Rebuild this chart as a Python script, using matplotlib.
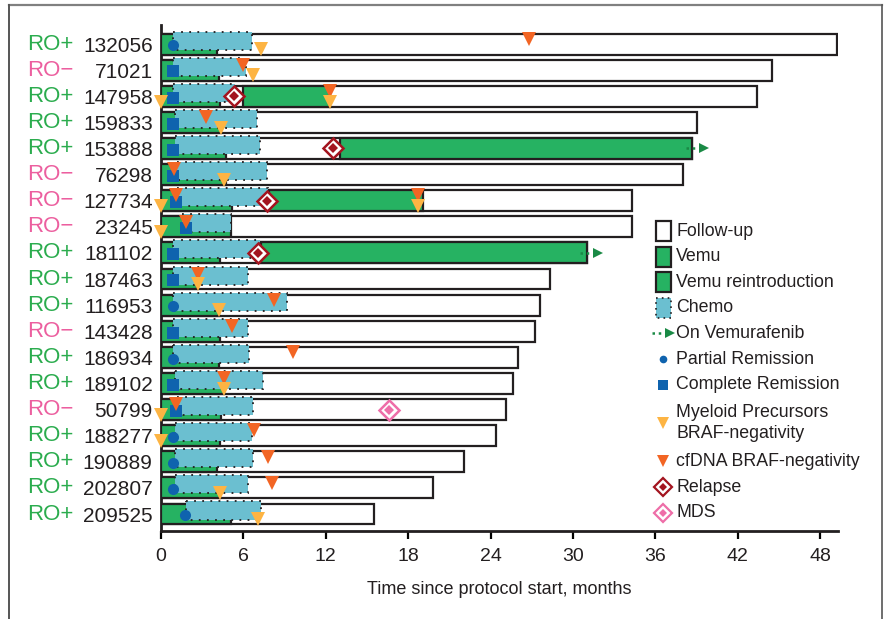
import matplotlib
matplotlib.use('Agg')
import matplotlib.pyplot as plt
from matplotlib.patches import Rectangle
from matplotlib.lines import Line2D
from matplotlib.transforms import blended_transform_factory

plt.rcParams['font.family'] = ['Liberation Sans', 'DejaVu Sans']

# one entry per patient, top to bottom
patient_ids = ['132056', '71021', '147958', '159833', '153888', '76298', '127734',
               '23245', '181102', '187463', '116953', '143428', '186934', '189102',
               '50799', '188277', '190889', '202807', '209525']
ro_status = ['+', '-', '+', '+', '+', '-', '-', '-', '+', '+', '+', '-', '+', '+',
             '-', '+', '+', '+', '+']
followup_end = [49.2, 44.5, 43.4, 39.0, 38.7, 38.0, 34.3, 34.3, 31.0, 28.3, 27.6,
                27.2, 26.0, 25.6, 25.1, 24.4, 22.1, 19.8, 15.5]
vemu_end = [4.1, 4.2, 4.3, 4.4, 4.7, 4.7, 5.2, 5.1, 4.3, 2.6, 4.2, 4.3, 4.2, 4.6,
            4.4, 4.3, 4.1, 4.3, 5.1]
chemo_start = [0.9, 0.9, 0.9, 1.0, 1.0, 1.2, 1.2, 1.5, 0.9, 0.9, 0.9, 0.9, 0.9, 1.0,
               1.2, 1.0, 1.0, 1.0, 1.8]
chemo_end = [6.6, 6.2, 5.4, 7.0, 7.2, 7.7, 7.8, 5.1, 7.2, 6.3, 9.2, 6.3, 6.4, 7.4,
             6.7, 6.6, 6.7, 6.3, 7.3]
reintro = {2: (6.0, 12.3), 4: (13.0, 38.7), 6: (7.9, 19.1), 8: (7.3, 31.0)}
still_on_vemu = [4, 8]
response = ['PR', 'CR', 'CR', 'CR', 'CR', 'CR', 'CR', 'CR', 'CR', 'CR', 'PR', 'CR',
            'PR', 'CR', 'CR', 'PR', 'PR', 'PR', 'PR']
response_time = [0.9, 0.9, 0.9, 0.9, 0.9, 0.9, 1.1, 1.8, 0.9, 0.9, 0.9, 0.9, 0.9,
                 0.9, 1.1, 0.9, 0.9, 0.9, 1.75]
myeloid_neg = [[7.3], [6.7], [0, 12.3], [4.4], [], [4.6], [0, 18.7], [0], [], [2.7],
               [4.2], [], [], [4.6], [0], [0], [], [4.3], [7.1]]
cfdna_neg = [[26.8], [6.0], [12.3], [3.3], [], [0.95], [1.1, 18.7], [1.8], [], [2.7],
             [8.2], [5.2], [9.6], [4.6], [1.1], [6.8], [7.8], [8.1], []]
relapse = {2: 5.3, 4: 12.5, 6: 7.7, 8: 7.1}
mds = {14: 16.6}

GREEN = '#26b262'
CHEMO = '#6bbfd0'
BLUE = '#0f63ae'
YELLOW = '#fdb443'
ORANGE = '#f26524'
RELAPSE = '#a3141f'
MDS_PINK = '#ee6ea8'
EDGE = '#231f20'
RO_POS = '#2bac4e'
RO_NEG = '#ec5f9f'

fig = plt.figure(figsize=(8.88, 6.19), dpi=100)
ax = fig.add_axes([161 / 888, 1 - 531 / 619, 677 / 888, 506 / 619])

h = 0.8
for i in range(len(patient_ids)):
    ax.add_patch(Rectangle((0, i - h / 2), followup_end[i], h, facecolor='white',
                           edgecolor=EDGE, lw=1.6, zorder=2))
    ax.add_patch(Rectangle((0, i - h / 2), vemu_end[i], h, facecolor=GREEN,
                           edgecolor=EDGE, lw=1.6, zorder=3))
    if i in reintro:
        s, e = reintro[i]
        ax.add_patch(Rectangle((s, i - h / 2), e - s, h, facecolor=GREEN,
                               edgecolor=EDGE, lw=1.6, zorder=3))
    ax.add_patch(Rectangle((chemo_start[i], i - 0.48), chemo_end[i] - chemo_start[i], 0.69,
                           facecolor=CHEMO, edgecolor=EDGE, lw=1.3,
                           linestyle=(0, (1, 3.5)), zorder=4))
    mk = 'o' if response[i] == 'PR' else 's'
    ax.plot(response_time[i], i + 0.05, marker=mk, ms=8.5 if mk == 's' else 8,
            color=BLUE, mec=BLUE, mew=0, zorder=6)
    for t in cfdna_neg[i]:
        ax.plot(t, i - 0.2, marker='v', ms=10, color=ORANGE, mew=0, zorder=7)
    for t in myeloid_neg[i]:
        ax.plot(t, i + 0.2, marker='v', ms=10, color=YELLOW, mew=0, zorder=7,
                clip_on=False)

for i, t in relapse.items():
    ax.plot(t, i, marker='D', ms=10, mfc='white', mec=RELAPSE, mew=1.8, zorder=8)
    ax.plot(t, i, marker='D', ms=5, color=RELAPSE, mew=0, zorder=9)
for i, t in mds.items():
    ax.plot(t, i, marker='D', ms=10, mfc='white', mec=MDS_PINK, mew=1.8, zorder=8)
    ax.plot(t, i, marker='D', ms=5, color=MDS_PINK, mew=0, zorder=9)

# patients still on vemurafenib at data cut-off
for i in still_on_vemu:
    end = reintro[i][1]
    ax.plot([end - 0.5, end + 0.6], [i, i], ls=(0, (1, 1.5)), lw=1.8, color='#1a8a45',
            zorder=8, clip_on=False)
    ax.plot(end + 0.85, i, marker='>', ms=7, color='#1a8a45', mew=0, zorder=8,
            clip_on=False)

ax.set_xlim(0, 49.3)
ax.set_ylim(len(patient_ids) - 1 + 0.65, -0.73)
ax.set_xticks(range(0, 49, 6))
ax.set_yticks(range(len(patient_ids)))
ax.set_yticklabels(patient_ids, fontsize=15, color='#231f20')
ax.tick_params(axis='y', length=0, pad=6)
ax.tick_params(axis='x', length=6, width=1.6, direction='out', pad=6, labelsize=14,
               labelcolor='#231f20')
ax.set_xlabel('Time since protocol start, months', fontsize=13, color='#231f20',
              labelpad=12)
for side in ['top', 'right']:
    ax.spines[side].set_visible(False)
for side in ['left', 'bottom']:
    ax.spines[side].set_linewidth(2)
    ax.spines[side].set_color(EDGE)

trans = blended_transform_factory(fig.transFigure, ax.transData)
for i, ro in enumerate(ro_status):
    ax.text(27 / 888, i, 'RO+' if ro == '+' else 'RO\u2212', transform=trans,
            fontsize=16, color=RO_POS if ro == '+' else RO_NEG, va='center', ha='left')

# legend drawn in its own axes, laid out in pixel units
lax = fig.add_axes([645 / 888, 1 - 530 / 619, 235 / 888, 315 / 619])
lax.set_xlim(645, 880)
lax.set_ylim(530, 215)
lax.axis('off')
step = 25.6
y0 = 231
slots = [0, 1, 2, 3, 4, 5, 6, 7.5, 9, 10, 11]
labels = ['Follow-up', 'Vemu', 'Vemu reintroduction', 'Chemo', 'On Vemurafenib',
          'Partial Remission', 'Complete Remission',
          'Myeloid Precursors\nBRAF-negativity', 'cfDNA BRAF-negativity', 'Relapse', 'MDS']
for k, (slot, lab) in enumerate(zip(slots, labels)):
    y = y0 + slot * step
    lax.text(676, y, lab, fontsize=12.8, va='center', ha='left', color='#231f20',
             linespacing=1.3)
    if k < 3:
        lax.add_patch(Rectangle((656, y - 10), 15, 20, facecolor='white' if k == 0 else GREEN,
                                edgecolor=EDGE, lw=1.6))
    elif k == 3:
        lax.add_patch(Rectangle((656, y - 10), 15, 20, facecolor=CHEMO, edgecolor=EDGE,
                                lw=1.2, linestyle=(0, (1, 2.5))))
    elif k == 4:
        lax.plot([652, 668], [y, y], ls=(0, (1, 1.5)), lw=1.8, color='#1a8a45')
        lax.plot(670, y, marker='>', ms=7, color='#1a8a45', mew=0)
    elif k == 5:
        lax.plot(663, y, marker='o', ms=5.5, color=BLUE, mew=0)
    elif k == 6:
        lax.plot(663, y, marker='s', ms=6.5, color=BLUE, mew=0)
    elif k == 7:
        lax.plot(663, y, marker='v', ms=8, color=YELLOW, mew=0)
    elif k == 8:
        lax.plot(663, y, marker='v', ms=8, color=ORANGE, mew=0)
    else:
        c = RELAPSE if k == 9 else MDS_PINK
        lax.plot(663, y, marker='D', ms=9, mfc='white', mec=c, mew=1.6)
        lax.plot(663, y, marker='D', ms=4, color=c, mew=0)

# page frame
fig.add_artist(Line2D([9 / 888, 882 / 888], [1 - 5 / 619, 1 - 5 / 619], color='#808080', lw=1.6))
fig.add_artist(Line2D([9 / 888, 9 / 888], [0, 1 - 5 / 619], color='#555555', lw=1.4))
fig.add_artist(Line2D([882 / 888, 882 / 888], [0, 1 - 5 / 619], color='#555555', lw=1.2))

fig.savefig('out.png', dpi=100)
